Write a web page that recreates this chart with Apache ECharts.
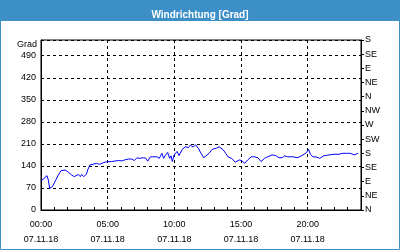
<!DOCTYPE html>
<html>
<head>
<meta charset="utf-8">
<script src="https://cdn.jsdelivr.net/npm/echarts@6/dist/echarts.min.js"></script>
<style>
html,body{margin:0;padding:0;background:#fff;}
#c{width:400px;height:250px;}
</style>
</head>
<body>
<div id="c"></div>
<script>
const titleText = 'Windrichtung [Grad]';
const dateLabel = '07.11.18';
const leftAxisName = 'Grad';
const compassLabels = ['N','NE','E','SE','S','SW','W','NW','N','NE','E','SE','S'];
const times = ['00:00','00:27','00:33','00:39','00:44','00:51','01:00','01:09','01:18','01:30','01:48','02:00','02:18','02:30','02:48','02:57','03:03','03:12','03:24','03:30','03:40','03:48','04:10','04:24','04:40','04:54','05:18','05:48','06:04','06:16','06:22','06:34','06:48','07:00','07:12','07:22','07:30','07:42','07:52','08:00','08:12','08:22','08:30','08:42','08:52','09:04','09:12','09:18','09:30','09:39','09:45','09:51','09:59','10:12','10:21','10:36','10:51','11:03','11:12','11:24','11:36','11:48','12:00','12:12','12:21','12:36','12:51','13:09','13:21','13:30','13:40','13:51','14:03','14:18','14:34','14:42','14:52','15:04','15:16','15:30','15:46','16:00','16:16','16:30','16:46','17:00','17:06','17:20','17:36','17:51','18:06','18:16','18:30','18:39','18:54','19:12','19:24','19:39','19:54','20:04','20:12','20:24','20:42','20:54','21:12','21:36','21:58','22:21','22:36','22:59','23:12','23:29','23:47'];
const direction = [92,109,95,69,66,74,86,90,111,125,127,122,111,106,113,106,113,106,113,127,143,148,148,145,150,153,154,157,156,159,155,162,162,157,166,164,159,166,164,155,169,169,164,169,164,180,164,172,183,164,172,154,175,186,173,193,201,198,206,200,207,196,180,166,168,180,193,196,201,207,191,180,168,164,152,152,159,157,148,159,169,169,166,154,164,169,168,175,173,166,166,172,169,164,169,166,169,175,182,193,177,169,168,164,172,175,177,177,180,180,180,175,180];

function toHours(t){const p=t.split(':');return (+p[0])+(+p[1])/60;}
const seriesData = times.map((t,i)=>[toHours(t), direction[i]]);

const font = 'Liberation Sans';
const chart = echarts.init(document.getElementById('c'), null, {renderer:'canvas'});
chart.setOption({
  animation:false,
  backgroundColor:'#fff',
  title:{text:titleText,left:'center',top:5,textStyle:{color:'#fff',fontSize:10,fontWeight:'bold',fontFamily:font}},
  graphic:[
    {type:'rect',z:-1,shape:{x:0,y:0,width:400,height:21},style:{fill:'#3d8fc8'}},
    {type:'rect',z:-1,shape:{x:0.5,y:0.5,width:399,height:249},style:{fill:null,stroke:'#3d8fc8',lineWidth:1}},
    {type:'text',left:null,x:37,y:45,style:{text:leftAxisName,fill:'#000',font:'9px '+font,textAlign:'right',textVerticalAlign:'middle'}}
  ],
  grid:{left:41,right:39,top:40,bottom:40,show:true,borderColor:'#000',borderWidth:1,backgroundColor:'transparent'},
  xAxis:{
    type:'value',min:0,max:24,interval:5,
    axisLine:{show:true,lineStyle:{color:'#000',width:1}},
    axisTick:{show:true,inside:true,length:3,lineStyle:{color:'#000'}},
    minorTick:{show:true,splitNumber:5,length:3,lineStyle:{color:'#000'}},
    splitLine:{show:true,lineStyle:{color:'#000',type:[3,3],width:1}},
    axisLabel:{showMaxLabel:false,margin:7,color:'#000',fontSize:9,fontFamily:font,lineHeight:15,
      formatter:v=>String(v).padStart(2,'0')+':00\n'+dateLabel}
  },
  yAxis:[
    {type:'value',min:0,max:540,interval:70,position:'left',
      axisLine:{show:true,lineStyle:{color:'#000'}},
      axisTick:{show:false},
      splitLine:{show:true,lineStyle:{color:'#000',type:[3,3],width:1}},
      axisLabel:{showMaxLabel:false,margin:5,color:'#000',fontSize:9,fontFamily:font}
    },
    {type:'value',min:0,max:540,interval:45,position:'right',
      axisLine:{show:true,lineStyle:{color:'#000'}},
      axisTick:{show:true,length:3,lineStyle:{color:'#000'}},
      splitLine:{show:false},
      axisLabel:{margin:4,color:'#000',fontSize:9,fontFamily:font,formatter:v=>compassLabels[Math.round(v/45)]}
    }
  ],
  series:[{type:'line',data:seriesData,yAxisIndex:0,showSymbol:false,symbol:'none',lineStyle:{color:'#0000ff',width:1},smooth:false}]
});
</script>
</body>
</html>
